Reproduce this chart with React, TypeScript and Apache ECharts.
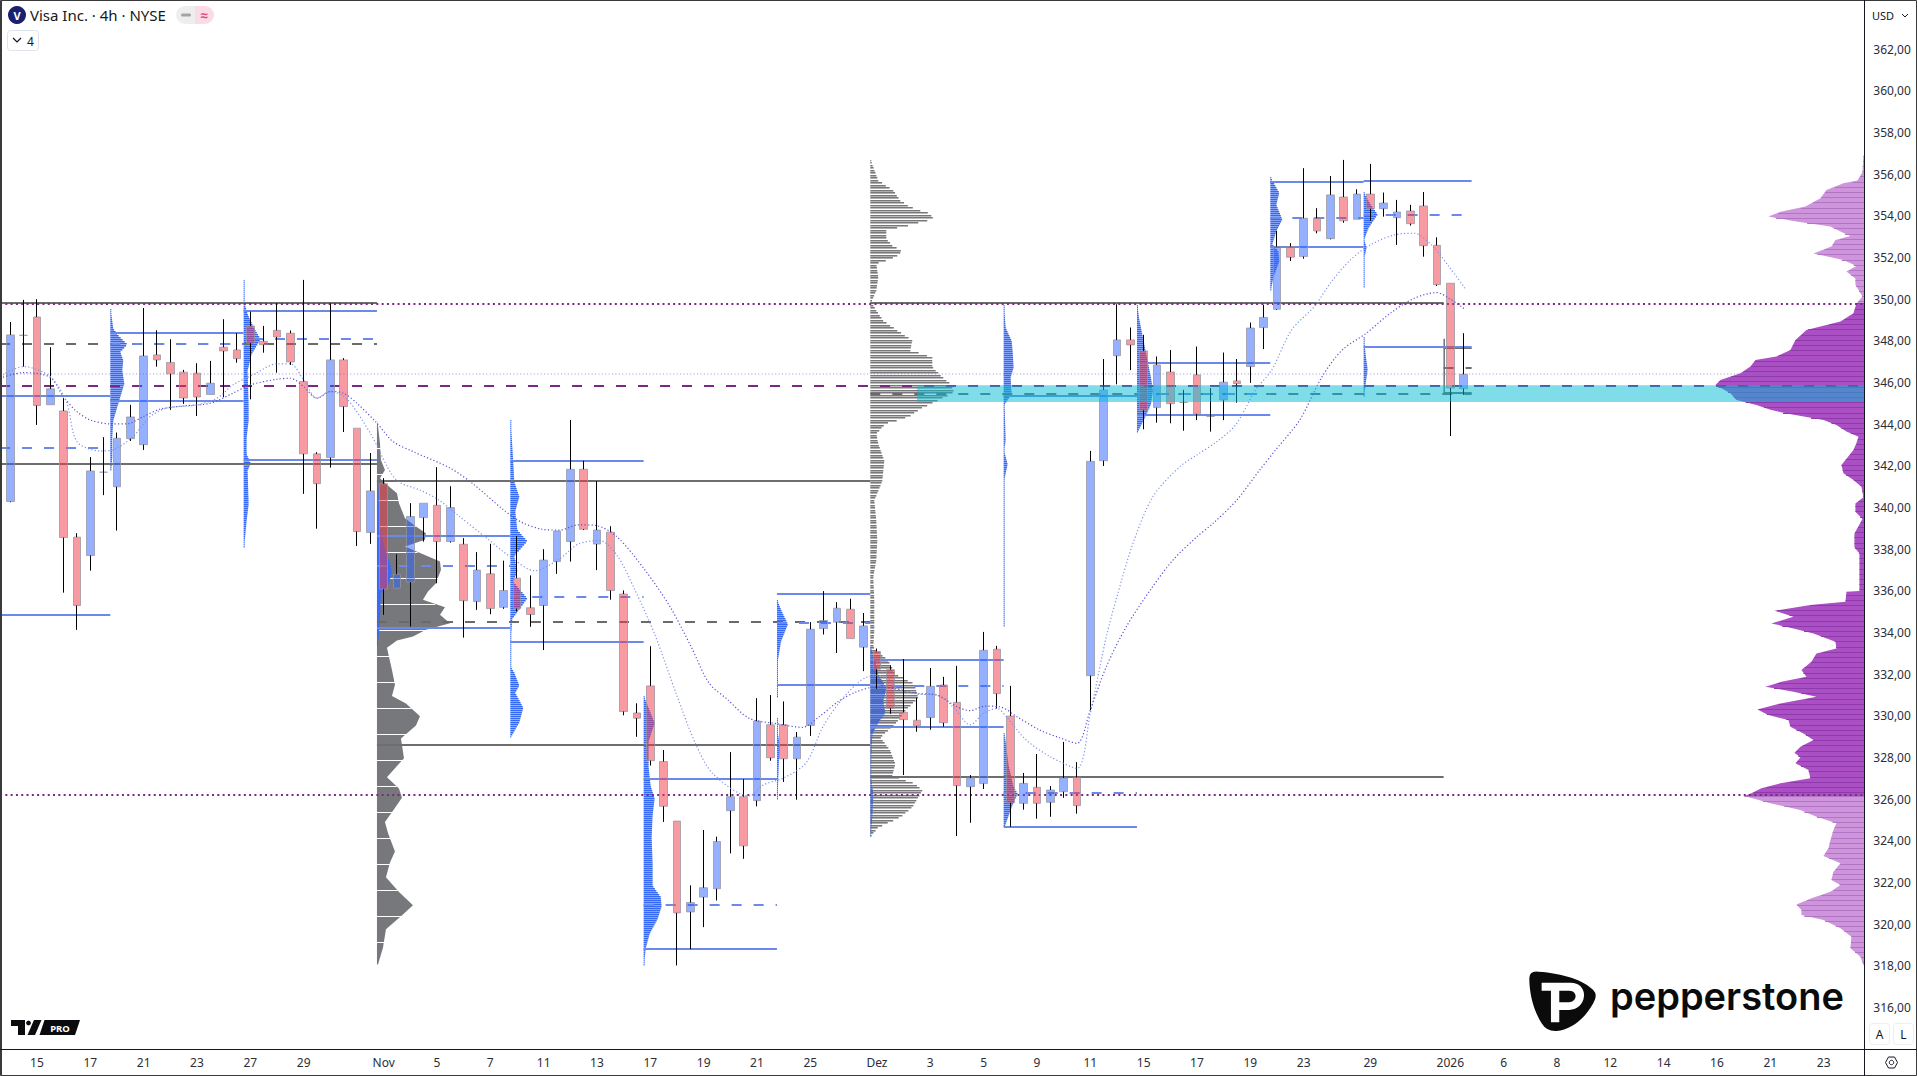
import React, { useEffect, useRef } from "react";
import * as echarts from "echarts";

// ---------- candles (price per 4h bar) ----------
const opens = [340.29,348.27,349.15,344.94,344.64,338.58,337.7,341.7,341.0,343.31,343.02,347.33,346.97,346.5,346.45,345.43,347.7,347.57,348.72,347.98,348.51,348.37,346.05,342.58,342.4,347.09,343.81,338.8,341.14,336.13,336.42,339.52,340.11,338.37,338.24,335.49,336.82,335.21,336.61,335.19,335.3,337.41,338.37,341.84,338.25,338.82,335.85,330.14,331.44,327.81,324.95,320.59,321.3,321.7,325.45,326.12,325.93,329.57,329.57,327.94,329.54,334.19,334.5,335.12,333.3,333.09,332.22,330.17,329.79,329.92,331.48,330.65,326.6,326.75,333.2,329.99,325.8,326.57,325.85,326.36,327.05,331.93,342.25,347.29,348.05,347.52,344.8,346.51,345.05,346.37,344.38,345.17,346.08,346.77,348.64,349.52,352.53,352.05,353.89,352.91,354.91,353.84,355.05,354.35,353.92,354.24,354.48,352.59,350.77,345.71];
const highs = [348.91,349.97,350.0,347.7,345.25,338.77,342.42,343.38,343.6,344.93,349.58,348.51,348.08,346.61,346.93,347.04,349.04,348.37,349.41,348.72,349.81,348.5,350.93,342.66,349.81,347.17,343.81,342.62,341.41,337.76,340.21,340.21,341.94,341.02,338.53,337.86,338.26,337.45,338.64,336.74,338.0,338.87,344.2,342.25,341.27,339.1,336.02,330.6,333.34,328.36,324.95,321.86,324.52,324.2,328.26,326.96,330.85,331.0,330.69,329.22,334.5,335.99,335.46,335.62,334.94,333.23,332.42,332.73,330.87,332.3,331.87,332.4,327.16,334.03,333.36,331.44,327.26,328.17,326.63,328.75,327.78,342.72,347.13,349.76,348.64,348.29,347.25,347.56,345.65,347.73,345.73,347.44,347.13,348.88,349.73,353.28,352.69,356.29,354.37,355.92,356.69,355.28,356.5,355.12,354.77,354.53,355.15,352.97,350.77,348.37];
const lows = [340.26,346.77,343.97,344.94,335.92,334.13,336.98,340.6,338.9,343.2,342.77,346.77,344.69,344.98,344.4,345.43,345.3,346.96,345.2,347.44,346.48,346.85,340.66,338.99,341.92,343.63,338.16,338.26,334.85,336.13,334.29,338.37,336.37,338.32,333.76,335.09,334.88,335.14,335.01,334.28,333.16,336.82,337.41,338.92,337.0,335.58,330.03,329.0,327.62,324.91,318.02,318.8,319.86,321.14,323.4,323.14,325.66,327.85,326.83,325.98,329.04,333.91,333.02,333.71,332.15,331.3,330.1,327.16,329.24,329.34,329.48,324.23,324.87,326.49,330.35,324.68,325.5,325.07,325.16,326.07,325.31,330.28,342.0,345.92,346.6,343.76,344.08,344.05,343.69,344.2,343.65,344.2,345.04,345.99,347.61,349.49,351.84,351.95,353.17,352.88,353.68,353.84,353.77,353.97,352.61,353.54,352.05,350.64,343.44,345.41];
const closes = [348.29,348.27,344.9,345.7,338.56,335.3,341.76,341.7,343.33,344.35,347.28,347.09,346.42,345.26,345.31,345.97,347.52,347.15,347.89,347.82,348.19,346.99,342.58,341.15,347.09,344.85,338.85,340.8,336.08,336.8,339.57,340.21,338.37,340.0,335.53,337.0,335.15,336.02,335.15,334.87,337.48,338.87,341.84,338.96,338.92,336.02,330.21,329.89,327.85,325.66,320.54,321.04,321.75,323.97,326.12,323.76,329.75,327.99,327.94,328.98,334.16,334.58,335.17,333.71,334.32,332.24,330.37,329.82,329.52,331.42,329.67,326.65,327.02,333.15,331.07,325.83,326.76,325.8,326.44,327.02,325.69,342.22,345.65,348.05,347.81,344.67,346.85,344.99,345.05,344.5,344.38,346.02,345.95,348.62,349.13,352.53,352.02,353.89,353.28,355.01,353.77,355.05,354.35,354.62,354.19,353.63,352.57,350.7,345.74,346.4];

const tickIndex = [2,6,10,14,18,22,28,32,36,40,44,48,52,56,60,65,69,73,77,81,85,89,93,97,102,108,112,116,120,124,128,132,136];
const tickLabels = ["15","17","21","23","27","29","Nov","5","7","11","13","17","19","21","25","Dez","3","5","9","11","15","17","19","23","29","2026","6","8","12","14","16","21","23"];

// ---------- horizontal levels: [from bar, to bar, price] ----------
const EDGE = -0.77, RIGHT = 139.06;
const greySolid = [[EDGE,27.5,349.81],[EDGE,27.5,342.1],[27.5,64.5,341.28],[27.5,64.5,328.6],[64.5,107.5,349.8],[64.5,107.5,327.08],[107.5,109.6,347.65],[107.5,109.6,345.49]];
const greyDashed = [[EDGE,27.5,347.86],[27.5,64.5,334.5],[64.5,109.6,345.45],[107.5,109.6,346.7]];
const blueSolid = [[EDGE,7.5,345.36],[EDGE,7.5,334.85],[7.5,17.5,348.4],[7.5,17.5,345.12],[17.5,27.5,349.44],[17.5,27.5,342.29],[27.5,37.5,338.64],[27.5,37.5,334.24],[37.5,47.5,342.25],[37.5,47.5,333.55],[47.5,57.5,326.98],[47.5,57.5,318.8],[57.5,64.5,335.83],[57.5,64.5,331.46],[64.5,74.5,332.68],[64.5,74.5,329.48],[74.5,84.5,345.36],[74.5,84.5,324.67],[84.5,94.5,346.96],[84.5,94.5,344.45],[94.5,101.5,355.63],[94.5,101.5,352.5],[101.5,109.6,355.7],[101.5,109.6,347.71]];
const blueDashed = [[EDGE,7.5,342.87],[7.5,17.5,347.83],[18.2,27.5,348.1],[27.5,37.5,337.2],[37.5,47.5,335.72],[47.5,57.5,320.91],[57.5,64.5,334.46],[64.5,74.5,331.44],[74.5,84.5,326.3],[84.5,94.5,345.45],[94.5,101.5,353.89],[101.5,109.6,354.05]];
const purpleDotted = [[EDGE,RIGHT,349.77],[EDGE,RIGHT,326.2]];
const purpleDashed = [[EDGE,RIGHT,345.85]];
const faintDotted = [[EDGE,132,346.4]];
const zoneLow = 345.07, zoneHigh = 345.87, zoneStart = 68;

// ---------- moving averages: [bar, price] ----------
const maSlow = [[-0.78,346.21],[0.98,346.48],[2.98,346.26],[3.98,345.33],[4.98,344.61],[5.98,344.21],[7.48,344.02],[8.73,344.02],[9.98,344.37],[11.2,344.72],[13,344.88],[15,345.01],[16.7,345.49],[18,345.89],[20,346.16],[21,346.21],[22,345.81],[23,345.25],[24,345.57],[25,345.49],[26,345.01],[27.5,344.05],[28.7,343.17],[30.2,342.69],[33,341.89],[34.8,341.09],[36.9,339.94],[38.3,339.31],[39.9,338.96],[41.2,338.92],[42.6,339.17],[43.9,339.14],[45.5,338.6],[47.6,337.0],[49.5,335.22],[51.1,333.27],[52.4,331.58],[53.8,330.78],[55.4,329.89],[57.5,329.62],[59.4,329.45],[60.7,329.98],[62.1,330.69],[63.4,331.14],[65,331.4],[66.2,331.32],[68,331.08],[69.5,331],[71,330.44],[72,330.25],[73.1,330.47],[74.2,330.44],[75.5,329.96],[77.2,329.32],[78.7,328.95],[80,328.68],[81,330.28],[82.2,332.36],[83.7,334.28],[85.5,336.04],[87.2,337.48],[89,338.6],[90.2,339.24],[92,340.37],[93.7,341.8],[94.9,342.77],[96.7,344.2],[98.4,346.3],[99.9,347.57],[101.7,348.37],[103.5,349.33],[105.3,350.05],[107,350.32],[107.9,350.05],[109.1,349.52]];
const maFast = [[-0.78,346.29],[0.98,346.77],[2.98,346.29],[4.2,345.09],[5,343.17],[6.7,342.72],[7.7,342.77],[9.2,343.41],[10.5,344.37],[11.7,344.77],[14,344.93],[15.5,345.25],[16.7,345.89],[18.2,346.37],[20,346.9],[21,346.9],[22,346.13],[23,345.25],[24,345.57],[25.2,345.25],[27,343.57],[28.9,341.36],[30.8,340.82],[32.1,340.38],[33.5,339.67],[35.6,338.6],[37.7,337.54],[39.3,336.97],[41.2,337.54],[42.6,338.25],[44.2,338.42],[45.5,337.71],[46.8,336.11],[48.4,333.8],[50,330.96],[51.4,328.65],[52.7,327.22],[55.4,326.16],[56.5,326.69],[58.1,327.05],[59.7,327.76],[61,329.54],[62.6,330.96],[64.2,331.85],[65.5,331.94],[66.5,331.32],[68,331.05],[69.5,331],[70.7,330.44],[72,329.57],[73,330.12],[74,330.36],[74.7,329.96],[76.2,328.84],[78,328.04],[80,327.48],[81,330.12],[82.2,333.8],[83,335.72],[84.2,338.28],[85.7,340.53],[87.7,341.96],[89,342.53],[90.5,343.17],[91.9,343.97],[93.4,345.65],[94.6,346.6],[96.1,348.53],[97.8,349.65],[99,350.77],[100.5,351.89],[102,352.61],[103.8,353.09],[105.3,353.17],[106.7,352.53],[107.9,351.57],[109.1,350.53]];

// ---------- volume profiles: prices and bar lengths ----------
const purpleP = [356.9,356.1,355.7,355.57,355.25,354.85,354.45,354.2,353.97,353.73,353.49,353.25,353.04,352.85,352.53,352.2,351.89,351.6,351.33,351,350.7,350.13,349.8,349.33,348.93,348.53,348.05,347.57,347.25,347.09,346.77,346.45,346.13,345.89,345.49,345.17,344.93,344.7,344.53,344.2,343.97,343.65,343.4,343.1,342.77,342.05,341.65,341.33,341,340.5,340.2,339.8,339.45,338.75,338.1,337.8,337.15,336.6,336.0,335.96,335.48,335.32,335.05,334.76,334.44,334.2,333.96,333.56,333.24,333,332.6,332.2,331.88,331.64,331.4,331.16,330.92,330.6,330.31,330.04,329.8,329.48,329.16,328.84,328.52,328.23,328,327.72,327.4,327,326.76,326.52,326.28,326.15,325.8,325.48,325.16,324.84,324.52,324.04,323.64,323.27,322.92,322.52,322.12,321.88,321.56,321.24,320.95,320.68,320.44,320.2,319.8,319.4,318.84,318.44,318.04];
const purpleW = [1,2,7,21,38,44,59,84,96,68,34,24,14,29,33,51,21,8,18,9,9,2,8,11,24,58,69,74,88,109,114,124,144,149,134,128,108,94,79,41,28,18,6,8,11,23,21,11,3,1,9,9,2,10,10,5,5,5,5,18,19,54,90,71,93,71,51,29,28,48,53,63,58,83,99,71,48,84,107,96,76,74,61,51,64,70,64,69,56,54,84,103,113,120,94,64,48,28,31,34,36,41,24,31,33,24,34,53,68,63,63,41,24,13,14,4,1];
const novGreyP = [344.13,343.09,342.29,341.81,341.41,341.01,340.69,340.21,339.49,339.09,338.77,338.45,338.13,337.41,337.01,336.37,335.97,335.57,335.22,334.85,334.45,334.13,333.81,333.62,333.27,332.2,331.49,330.96,330.6,329.98,329.54,328.92,327.96,327.49,327.05,326.51,326.07,325.45,324.91,324.38,323.49,322.96,322.25,321.54,320.91,320.38,319.76,318.87,318.07];
const novGreyW = [0.5,3,4,8,3,12,20,22,28,39,49,48,28,63,64,59,51,46,68,63,73,49,36,20,10,15,18,15,29,43,39,24,27,18,10,22,25,16,8,11,18,13,9,22,36,24,9,6,1];
const decGreyP = [356.69,355.73,355.25,354.77,354.45,354.13,353.89,353.65,353.33,352.93,352.61,352.33,352.05,351.73,351.09,350.45,349.89,349.49,349,348.53,348.05,347.57,347.25,346.77,346.29,345.97,345.57,345.09,344.77,344.37,344.05,343.57,343.09,342.28,341.3,340.37,339.4,338.45,337.5,336.7,335.57,334.13,333.32,332.68,332.04,331.56,330.9,330.28,329.64,329,328.36,327.72,327.16,326.76,326.44,326.12,325.64,325.16,324.68,324.28];
const decGreyW = [0.5,8,23,30,40,60,63,45,16,16,22,32,25,6,8,6,1,6,13,27,42,40,62,62,72,80,84,64,50,38,15,6,8,14,12,4,6,7,6,3,4,4,3,18,25,44,48,35,25,10,20,25,22,45,52,48,42,30,8,1];
const blue0P = [349.52,348.61,348.29,347.86,347.49,347.09,346.61,345.97,345.33,344.85,344.21,343.41,342.45,341.81];
const blue0W = [0.5,3,8,17,10,13,12,14,10,7,3,2,2,1];
const blue1P = [350.93,349.81,349.33,348.69,348.13,347.41,346.61,345.01,344.21,343.41,342.61,342.16,341.81,340.21,339.41,338.13];
const blue1W = [0.5,1,4,10,17,8,4,5,5,3,3,7,4,5,3,0.5];
const blue2P = [341.33,339,338.07,337.36,336.9,336.3,335.94,334.69,333.98,333.4];
const blue2W = [1,3,8,13,15,11,4,3,2,0.5];
const blue3P = [344.2,342.16,341.27,340.56,339.85,338.96,338.42,337.71,337,336.47,335.67,334.69,333.62,332.38,332.11,331.49,331.14,330.42,329.71,329];
const blue3W = [0.5,3,4,9,5,7,17,4,7,3,17,2,0.5,0.5,4,9,5,13,9,0.5];
const blue4P = [330.96,330.42,329.71,328.82,327.58,326.69,326.07,325.27,324.2,322.96,321.89,321.36,320.91,320.29,319.58,318.87,318.07];
const blue4W = [0.5,5,11,5,5,7,11,9,8,9,9,17,18,14,6,2,0.5];
const blue5P = [335.58,335.05,334.46,333.62,332.74,330.96];
const blue5W = [0.5,5,11,4,1,0.5];
const blue5bP = [329.9,329.18,328.56,327.94,325.98];
const blue5bW = [0.5,1,3,2,0.5];
const blue6P = [333.32,332.68,332.04,331.4,330.76,330.2,329.64,329.16,327.24,326.28,325.16,324.28];
const blue6W = [0.5,5,8,16,13,15,7,2,0.5,3,2,0.5];
const blue7P = [349.73,348.69,348.05,347.57,346.77,346.29,345.49,345,343.25,342.77,342.12,341.45,336.84,334.28];
const blue7W = [0.5,2,8,9,10,7,8,1,2,0.5,4,1,0.5,0.5];
const blue7bP = [329.16,327.64,326.6,326.28,325.64,324.68];
const blue7bW = [1,5,10,14,8,1];
const blue8P = [349.73,349.17,348.2,347.25,346.29,345.65,345,344.37,343.65];
const blue8W = [0.5,2,6,10,14,16,14,8,0.5];
const blue9P = [355.89,355.17,354.6,353.89,353.33,352.69,352.37,351.89,351.09,350.45];
const blue9W = [0.5,9,6,12,6,2,8,9,3,0.5];
const blue10P = [355.17,354.6,354.13,353.49,352.93,352.53,352.13,351.7,350.6];
const blue10W = [0.5,7,14,5,0.5,3,1,0.5,0.5];
const blue10bP = [348.2,347.4,346.69,345.97,345.4];
const blue10bW = [0.5,2,4,2,0.5];
const janStemP = [348.1,345.4];
const janStemW = [1,1];

// bar positions at which each profile is anchored
const anchorsBlue = [7.5,17.5,27.5,37.5,47.5,57.5,64.5,74.5,84.5,94.5,101.5];
const janAnchor = 107.5;

const FONT = "'Noto Sans', sans-serif";

const segments = (data: number[][], stroke: string, lineWidth: number, lineDash: number[] | undefined, z: number, opts: any = {}) => ({
  type: "custom", xAxisIndex: 1, yAxisIndex: 0, clip: false, silent: true, z, data,
  encode: { x: [0, 1], y: 2 },
  renderItem: (_: any, api: any) => {
    const a = api.coord([api.value(0), api.value(2)]);
    const b = api.coord([api.value(1), api.value(2)]);
    const y = Math.round(a[1]);
    return { type: "line", shape: { x1: a[0], y1: y, x2: b[0], y2: y }, style: { stroke, lineWidth, lineDash, fill: null, ...opts } };
  },
});

type ProfileOpts = { fill: string; dir?: number; rowPitch?: number; rowHeight?: number; lineColor?: string; linePitch?: number; lineWidth?: number; lineExtra?: number };

const profile = (anchor: number, prices: number[], widths: number[], z: number, o: ProfileOpts) => ({
  type: "custom", xAxisIndex: 1, yAxisIndex: 0, clip: false, silent: true, z,
  data: prices.map((p, k) => [anchor, p, widths[k]]),
  encode: { x: 0, y: 1 },
  renderItem: (params: any, api: any) => {
    if (params.dataIndex !== 0) return null;
    const dir = o.dir ?? 1;
    const x0 = api.coord([anchor, prices[0]])[0];
    const ys = prices.map((p) => api.coord([anchor, p])[1]);
    const widthAt = (y: number) => {
      for (let k = 0; k < ys.length - 1; k++) {
        if (y >= ys[k] && y <= ys[k + 1]) {
          const t = ys[k + 1] === ys[k] ? 0 : (y - ys[k]) / (ys[k + 1] - ys[k]);
          return widths[k] + t * (widths[k + 1] - widths[k]);
        }
      }
      return 0;
    };
    const children: any[] = [];
    if (o.rowPitch) {
      for (let y = ys[0]; y < ys[ys.length - 1]; y += o.rowPitch) {
        const w = Math.max(widthAt(y), 1);
        children.push({ type: "rect", shape: { x: dir > 0 ? x0 : x0 - w, y: Math.round(y), width: w, height: o.rowHeight ?? 1 }, style: { fill: o.fill } });
      }
    } else {
      const pts: number[][] = [[x0, ys[0]]];
      ys.forEach((y, k) => pts.push([x0 + dir * widths[k], y]));
      pts.push([x0, ys[ys.length - 1]]);
      children.push({ type: "polygon", shape: { points: pts }, style: { fill: o.fill } });
    }
    if (o.linePitch) {
      for (let y = ys[0]; y < ys[ys.length - 1]; y += o.linePitch) {
        const w = widthAt(y) + (o.lineExtra ?? 0);
        const yy = Math.round(y) + 0.5;
        children.push({ type: "line", shape: { x1: x0, y1: yy, x2: x0 + dir * w, y2: yy }, style: { stroke: o.lineColor, lineWidth: o.lineWidth ?? 1 } });
      }
    }
    return { type: "group", children };
  },
});

const inRange = (lo: number, hi: number) => {
  const idx = purpleP.map((p, k) => (p >= lo && p <= hi ? k : -1)).filter((k) => k >= 0);
  return [idx.map((k) => purpleP[k]), idx.map((k) => purpleW[k])];
};

const LOGO_SHIELD = "M88 85Q88 62 115 65C190 70 250 90 280 120Q295 135 280 160C255 205 215 240 170 243Q140 245 125 220C100 180 88 130 88 85Z";
const LOGO_P = "M125 98H212C240 98 255 118 252 140C250 165 230 180 208 180H178V217H153V122H125Z";
const LOGO_HOLE = "M178 122H208C222 122 228 132 227 140C226 150 218 157 207 157H178Z";

export default function App() {
  const ref = useRef<HTMLDivElement>(null);
  useEffect(() => {
    document.body.style.margin = "0";
    echarts.graphic.registerShape("pepShield", echarts.graphic.extendPath(LOGO_SHIELD, {}));
    echarts.graphic.registerShape("pepP", echarts.graphic.extendPath(LOGO_P, {}));
    echarts.graphic.registerShape("pepHole", echarts.graphic.extendPath(LOGO_HOLE, {}));
    const chart = echarts.init(ref.current!, undefined, { renderer: "svg" });
    const categories = Array.from({ length: 140 }, (_, i) => {
      const k = tickIndex.indexOf(i);
      return k >= 0 ? tickLabels[k] : "";
    });
    const [pU, wU] = inRange(349.8, 400);
    const [pM, wM] = inRange(326.15, 349.8);
    const [pL, wL] = inRange(300, 326.15);
    const BLUE = "rgb(52,104,245)";
    const blueRow = { fill: BLUE, rowPitch: 2, rowHeight: 1.6 };
    const blueAll: any[] = [
      [0, blue0P, blue0W], [1, blue1P, blue1W], [2, blue2P, blue2W], [3, blue3P, blue3W], [4, blue4P, blue4W],
      [5, blue5P, blue5W], [5, blue5bP, blue5bW], [6, blue6P, blue6W], [7, blue7P, blue7W], [7, blue7bP, blue7bW],
      [8, blue8P, blue8W], [9, blue9P, blue9W], [10, blue10P, blue10W], [10, blue10bP, blue10bW],
    ];
    chart.setOption({
      animation: false,
      grid: { left: 3.63, width: 1866.67, top: 7.66, height: 1041.5, show: false },
      xAxis: [
        {
          type: "category", data: categories, boundaryGap: true,
          axisLine: { show: false }, axisTick: { show: false }, splitLine: { show: false },
          axisLabel: { interval: 0, margin: 7, color: "#2a2e39", fontSize: 12, fontFamily: FONT, hideOverlap: false },
        },
        { type: "value", min: -0.5, max: 139.5, show: false },
      ],
      yAxis: {
        type: "value", position: "right", min: 314, max: 364, interval: 2, scale: false,
        axisLine: { show: false }, axisTick: { show: false }, splitLine: { show: false },
        axisLabel: {
          margin: 3, color: "#2a2e39", fontSize: 12, fontFamily: FONT, showMinLabel: false, showMaxLabel: false,
          formatter: (v: number) => v.toFixed(2).replace(".", ","),
        },
      },
      series: [
        profile(RIGHT, pU, wU, 1, { dir: -1, fill: "rgb(207,149,220)", lineColor: "rgb(176,118,196)", linePitch: 5.2 }),
        profile(RIGHT, pM, wM, 1, { dir: -1, fill: "rgb(171,79,196)", lineColor: "rgb(143,58,170)", linePitch: 5.2 }),
        profile(RIGHT, pL, wL, 1, { dir: -1, fill: "rgb(207,149,220)", lineColor: "rgb(176,118,196)", linePitch: 5.2 }),
        profile(27.5, novGreyP, novGreyW, 2, { fill: "rgb(118,120,124)", lineColor: "#ffffff", linePitch: 26, lineExtra: 1 }),
        profile(64.5, decGreyP, decGreyW, 2, { fill: "rgb(120,120,122)", rowPitch: 2.5, rowHeight: 1.6 }),
        profile(janAnchor, janStemP, janStemW, 2, { fill: "rgb(40,40,44)" }),
        ...blueAll.map(([a, p, w]) => profile(anchorsBlue[a], p, w, 3, blueRow)),
        segments(faintDotted, "rgba(120,115,200,0.75)", 1, [1, 2.4], 4),
        segments(greySolid, "#6e6e6e", 2, undefined, 4),
        segments(greyDashed, "#6a6a6a", 2, [10, 12], 4),
        segments(blueSolid, "rgb(106,137,232)", 2, undefined, 4),
        segments(blueDashed, "rgb(106,137,232)", 2, [10, 12], 4),
        segments(purpleDotted, "rgb(124,40,130)", 2, [2, 3.3], 5),
        segments(purpleDashed, "rgb(124,40,130)", 2, [10, 12], 5),
        {
          type: "candlestick", xAxisIndex: 0, yAxisIndex: 0, z: 6, barWidth: 8, silent: true,
          data: opens.map((o, i) => [o, closes[i], lows[i], highs[i]]),
          itemStyle: {
            color: "rgba(41,98,255,0.5)", color0: "rgba(242,54,69,0.5)", borderColor: "rgba(150,150,160,0.75)",
            borderColor0: "rgba(150,150,160,0.75)", borderColorDoji: "rgba(150,150,160,0.75)", borderWidth: 1,
          },
        },
        {
          type: "custom", xAxisIndex: 0, yAxisIndex: 0, z: 7, silent: true,
          data: opens.map((o, i) => [i, highs[i], Math.max(o, closes[i]), Math.min(o, closes[i]), lows[i]]),
          encode: { x: 0, y: [1, 2, 3, 4] },
          renderItem: (_: any, api: any) => {
            const i = api.value(0);
            const x = Math.floor(api.coord([i, 0])[0]) + 0.5;
            const y = (k: number) => api.coord([i, api.value(k)])[1];
            const mk = (a: number, b: number) => ({ type: "line", shape: { x1: x, y1: y(a), x2: x, y2: y(b) }, style: { stroke: "#000", lineWidth: 1 } });
            return { type: "group", children: [mk(1, 2), mk(3, 4)] };
          },
        },
        {
          type: "line", xAxisIndex: 1, yAxisIndex: 0, z: 8, smooth: 0.3, showSymbol: false, clip: false, silent: true, data: maSlow,
          lineStyle: { color: "#5b4fd0", width: 1.2, type: [1.2, 2.2] },
        },
        {
          type: "line", xAxisIndex: 1, yAxisIndex: 0, z: 8, smooth: 0.3, showSymbol: false, clip: false, silent: true, data: maFast,
          lineStyle: { color: "#7e93e6", width: 1.2, type: [1.2, 2.2] },
        },
        {
          type: "custom", xAxisIndex: 1, yAxisIndex: 0, z: 9, clip: false, silent: true,
          data: [[zoneStart, RIGHT, zoneLow, zoneHigh]],
          encode: { x: [0, 1], y: [2, 3] },
          renderItem: (_: any, api: any) => {
            const a = api.coord([api.value(0), api.value(3)]);
            const b = api.coord([api.value(1), api.value(2)]);
            return { type: "rect", shape: { x: a[0], y: a[1], width: b[0] - a[0], height: b[1] - a[1] }, style: { fill: "rgba(0,188,212,0.5)" } };
          },
        },
      ],
      graphic: [
        // frame
        { type: "rect", z: 50, shape: { x: 0.5, y: 0.5, width: 1916, height: 1075 }, style: { fill: "none", stroke: "#3a3a3a", lineWidth: 1 } },
        { type: "line", z: 50, shape: { x1: 1.5, y1: 1, x2: 1.5, y2: 1075 }, style: { stroke: "#3a3a3a", lineWidth: 1 } },
        { type: "line", z: 50, shape: { x1: 1864.5, y1: 0, x2: 1864.5, y2: 1076 }, style: { stroke: "#131722", lineWidth: 1 } },
        { type: "line", z: 50, shape: { x1: 0, y1: 1049.5, x2: 1917, y2: 1049.5 }, style: { stroke: "#131722", lineWidth: 1 } },
        // legend
        { type: "circle", z: 50, shape: { cx: 17, cy: 15, r: 9 }, style: { fill: "#1a1f71" } },
        { type: "text", z: 51, x: 17, y: 15, style: { text: "V", fill: "#fff", font: `bold 11px ${FONT}`, align: "center", verticalAlign: "middle" } },
        { type: "text", z: 51, x: 30, y: 15, style: { text: "Visa Inc. · 4h · NYSE", fill: "#131722", font: `15px ${FONT}`, verticalAlign: "middle" } },
        { type: "rect", z: 50, shape: { x: 176, y: 6, width: 19, height: 18, r: [9, 0, 0, 9] }, style: { fill: "#eeeeee" } },
        { type: "rect", z: 50, shape: { x: 195, y: 6, width: 19, height: 18, r: [0, 9, 9, 0] }, style: { fill: "#fbdbe6" } },
        { type: "rect", z: 51, shape: { x: 181, y: 13.5, width: 10, height: 3, r: 1.5 }, style: { fill: "#a3a3a6" } },
        { type: "text", z: 51, x: 204, y: 15, style: { text: "≈", fill: "#e0407c", font: `bold 13px ${FONT}`, align: "center", verticalAlign: "middle" } },
        { type: "rect", z: 50, shape: { x: 7.5, y: 30.5, width: 31, height: 20, r: 3 }, style: { fill: "#fff", stroke: "#e0e3eb" } },
        { type: "polyline", z: 51, shape: { points: [[13, 38], [17, 42], [21, 38]] }, style: { stroke: "#131722", fill: "none", lineWidth: 1.2 } },
        { type: "text", z: 51, x: 27, y: 41, style: { text: "4", fill: "#131722", font: `12px ${FONT}`, verticalAlign: "middle" } },
        // price-scale furniture
        { type: "text", z: 51, x: 1872, y: 15, style: { text: "USD", fill: "#131722", font: `11px ${FONT}`, verticalAlign: "middle" } },
        { type: "polyline", z: 51, shape: { points: [[1902, 14], [1905, 17], [1908, 14]] }, style: { stroke: "#131722", fill: "none", lineWidth: 1 } },
        { type: "rect", z: 50, shape: { x: 1869.5, y: 1023.5, width: 20, height: 21, r: 3 }, style: { fill: "#fff", stroke: "#eceef2" } },
        { type: "rect", z: 50, shape: { x: 1893.5, y: 1023.5, width: 20, height: 21, r: 3 }, style: { fill: "#fff", stroke: "#eceef2" } },
        { type: "text", z: 51, x: 1879.5, y: 1034, style: { text: "A", fill: "#131722", font: `12px ${FONT}`, align: "center", verticalAlign: "middle" } },
        { type: "text", z: 51, x: 1903.5, y: 1034, style: { text: "L", fill: "#131722", font: `12px ${FONT}`, align: "center", verticalAlign: "middle" } },
        { type: "polygon", z: 51, shape: { points: [[1885.5, 1062.5], [1888.5, 1057], [1894.5, 1057], [1897.5, 1062.5], [1894.5, 1068], [1888.5, 1068]] }, style: { fill: "none", stroke: "#131722", lineWidth: 1 } },
        { type: "circle", z: 51, shape: { cx: 1891.5, cy: 1062.5, r: 2.2 }, style: { fill: "none", stroke: "#131722", lineWidth: 1 } },
        // TV PRO badge
        { type: "polygon", z: 51, shape: { points: [[11, 1020], [25, 1020], [25, 1035], [18, 1035], [18, 1026], [11, 1026]] }, style: { fill: "#0b0b0f" } },
        { type: "circle", z: 51, shape: { cx: 28.5, cy: 1023, r: 2.4 }, style: { fill: "#0b0b0f" } },
        { type: "polygon", z: 51, shape: { points: [[34, 1020], [41.5, 1020], [35, 1035], [27.5, 1035]] }, style: { fill: "#0b0b0f" } },
        { type: "polygon", z: 51, shape: { points: [[44.5, 1020], [80, 1020], [75, 1035], [39.5, 1035]] }, style: { fill: "#0b0b0f" } },
        { type: "text", z: 52, x: 60, y: 1028, style: { text: "PRO", fill: "#fff", font: `bold 9.5px ${FONT}`, align: "center", verticalAlign: "middle" } },
        // Pepperstone logo
        { type: "pepShield", z: 51, x: 1500, y: 950, scaleX: 1 / 3, scaleY: 1 / 3, style: { fill: "#0b0b0b" } },
        { type: "pepP", z: 52, x: 1500, y: 950, scaleX: 1 / 3, scaleY: 1 / 3, style: { fill: "#fff" } },
        { type: "pepHole", z: 53, x: 1500, y: 950, scaleX: 1 / 3, scaleY: 1 / 3, style: { fill: "#0b0b0b" } },
        { type: "text", z: 51, x: 1610, y: 996, style: { text: "pepperstone", fill: "#0b0b0b", font: `600 38px Inter, sans-serif`, verticalAlign: "middle" } },
      ],
    });
    return () => chart.dispose();
  }, []);
  return <div ref={ref} style={{ position: "fixed", left: 0, top: 0, width: 1917, height: 1076, background: "#fff" }} />;
}
